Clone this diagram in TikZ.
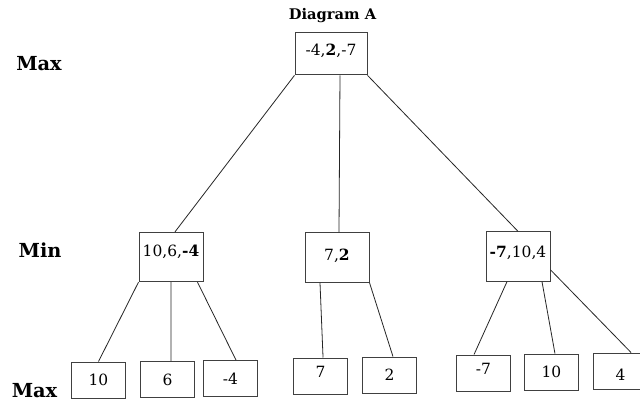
\documentclass[tikz,border=0pt]{standalone}
\usepackage{fontspec}
\setmainfont{DejaVu Serif}
\begin{document}
\begin{tikzpicture}[x=0.75pt,y=-0.75pt,
  valfont/.style={font=\fontsize{11.6}{13}\selectfont},
  valbox/.style={draw=black!75, line width=0.75pt, valfont, inner sep=0pt,
    text height=8.4pt, text depth=0pt},
  inner/.style={valbox, minimum width=48pt, minimum height=37pt},
  rootbox/.style={valbox, minimum width=54pt, minimum height=32pt},
  leaf/.style={valbox, minimum width=41pt, minimum height=27pt},
  level/.style={font=\fontsize{14.5}{16}\selectfont\bfseries, anchor=base},
  edge/.style={draw=black!85, line width=0.6pt}]
  % canvas
  \useasboundingbox (0,0) rectangle (640,401);
  \fill[white] (0,0) rectangle (640,401);
  \clip (0,0) rectangle (640,401);

  % title and level labels
  \node[font=\fontsize{11}{13}\selectfont\bfseries, anchor=base] (title) at (332.5,19) {Diagram A};
  \node[level] (maxtop) at (39,70) {Max};
  \node[level] (minlvl) at (40,257) {Min};
  \node[level] (maxbot) at (34.5,397) {Max};

  % root
  \node[rootbox, text depth=5.2pt] (root) at (331,53.5) {-4,\textbf{2},-7};

  % min level
  \node[inner, text depth=9pt] (lmin) at (171,257) {10,6,\textbf{-4}};
  \node[inner, text depth=3.8pt] (mmin) at (337,257.5) {7,\textbf{2}};
  \node[inner, text depth=6.8pt] (rmin) at (518,256.5) {\textbf{-7},10,4};

  % leaves
  \node[leaf] (l1) at (98.5,380) {10};
  \node[leaf] (l2) at (167.5,379.5) {6};
  \node[leaf] (l3) at (230.5,378.5) {-4};
  \node[leaf, text depth=5.6pt] (l4) at (320.5,376) {7};
  \node[leaf] (l5) at (389.5,375) {2};
  \node[leaf, text depth=6pt] (l6) at (483.5,373) {-7};
  \node[leaf] (l7) at (551.5,372) {10};
  \node[leaf, text height=14.4pt] (l8) at (620.5,371) {4};

  % root to min level
  \draw[edge] (root.south west) -- ([xshift=3pt]lmin.north);
  \draw[edge] ([xshift=6.75pt]root.south) -- ([xshift=1.5pt]mmin.north);
  \draw[edge] (root.south east) -- (rmin.north);

  % min level to leaves
  \draw[edge] (lmin.south west) -- (l1.north);
  \draw[edge] (lmin.south) -- ([xshift=2.6pt]l2.north);
  \draw[edge] ([xshift=-4.5pt]lmin.south east) -- ([xshift=4.1pt]l3.north);

  \draw[edge] ([xshift=-12.75pt]mmin.south) -- ([xshift=1.9pt]l4.north);
  \draw[edge] (mmin.south east) -- ([xshift=2.6pt]l5.north);

  \draw[edge] ([xshift=-8.25pt]rmin.south) -- ([xshift=-7.1pt]l6.north);
  \draw[edge] ([xshift=18pt]rmin.south) -- ([xshift=2.6pt]l7.north);
  \draw[edge] ([yshift=-10pt]rmin.east) -- ([xshift=7.9pt]l8.north);
\end{tikzpicture}
\end{document}
